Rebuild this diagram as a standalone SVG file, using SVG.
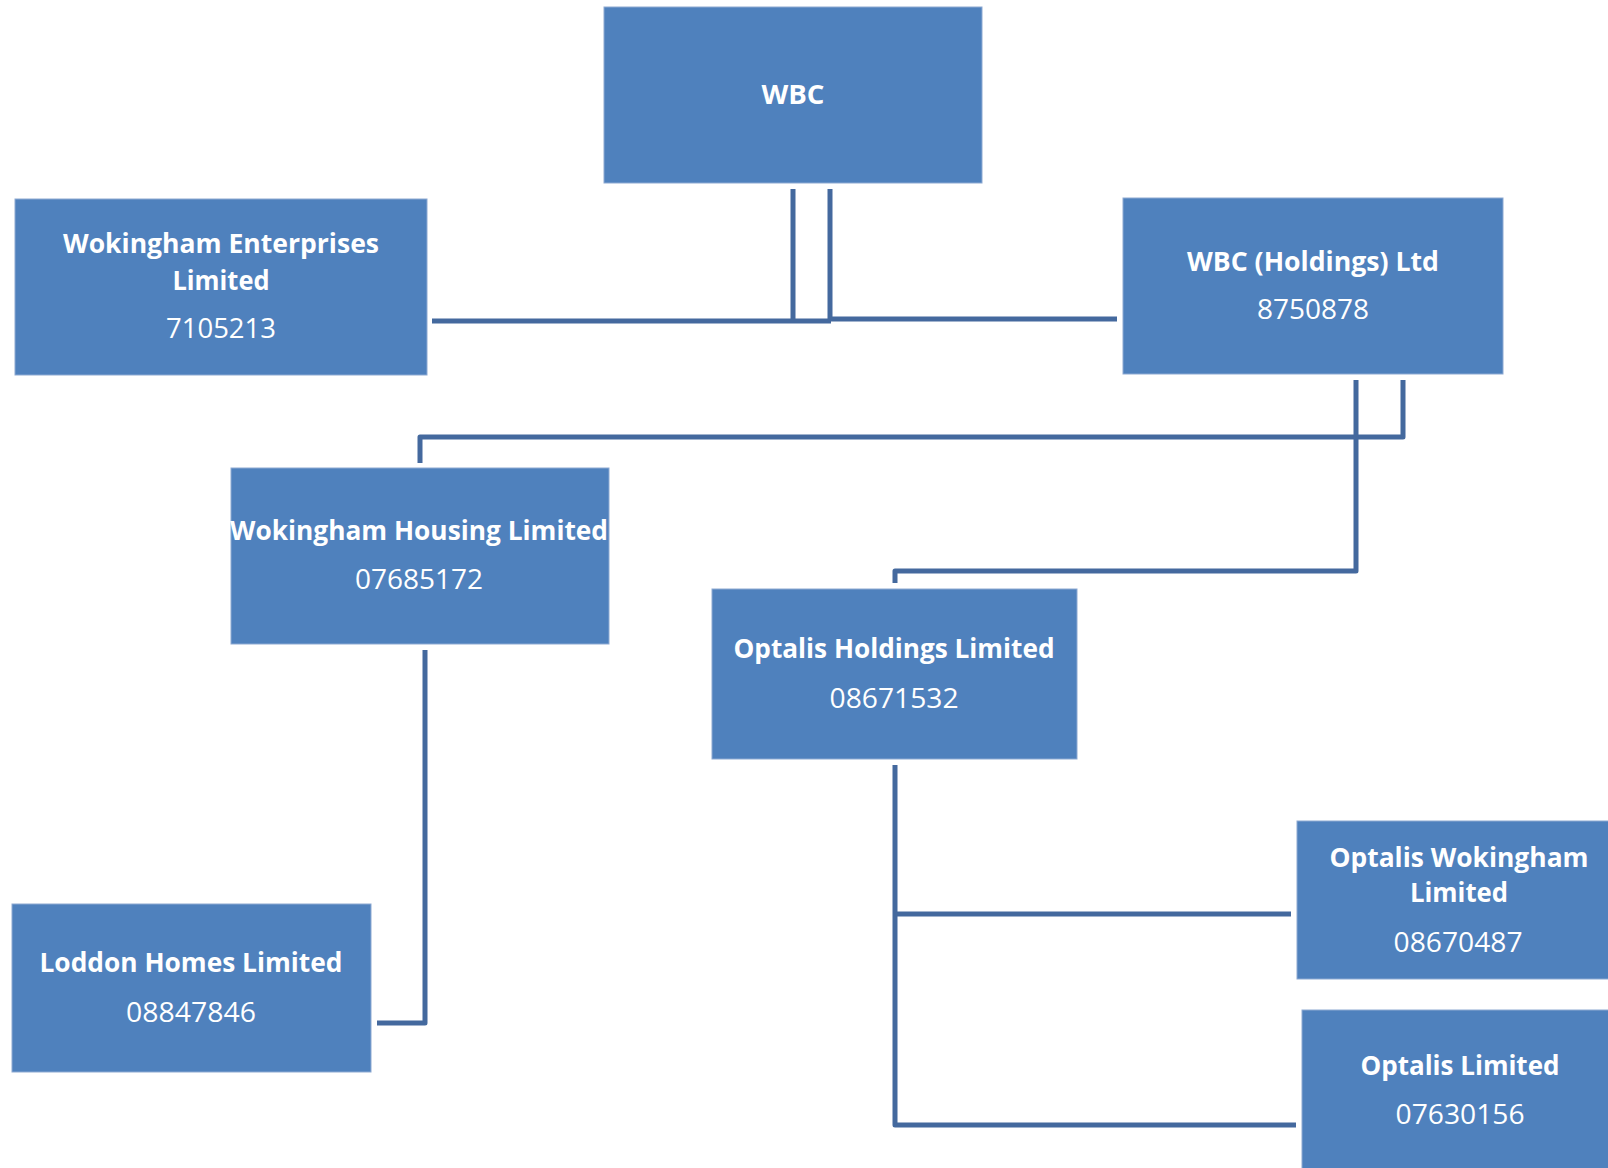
<svg xmlns="http://www.w3.org/2000/svg" width="1608" height="1168" viewBox="0 0 1608 1168">
<style>
.box{fill:#4F81BD;stroke:#8DA9D2;stroke-width:1}
.b{font-family:"Open Sans","Liberation Sans",sans-serif;font-weight:bold;font-size:26px;fill:#fff;text-anchor:middle}
.r{font-family:"Open Sans","Liberation Sans",sans-serif;font-size:28px;fill:#fff;text-anchor:middle}
.c{fill:none;stroke:#44699E;stroke-width:5;stroke-linejoin:round}
</style>
<rect width="1608" height="1168" fill="#fff"/>
<g id="connectors">
<path class="c" d="M793 189 V321 M432 321 H831"/>
<path class="c" d="M830 189 V319 H1117"/>
<path class="c" d="M1403 380 V437 H420 V463"/>
<path class="c" d="M1356 380 V571 H895 V583"/>
<path class="c" d="M425 650 V1023 H377"/>
<path class="c" d="M895 765 V1125 H1296 M895 914 H1291"/>
</g>
<g id="wbc">
<rect class="box" x="604" y="7" width="378" height="176"/>
<text class="b" x="793" y="104" font-size="29" textLength="63" lengthAdjust="spacingAndGlyphs">WBC</text>
</g>
<g id="wokingham-enterprises">
<rect class="box" x="15" y="199" width="412" height="176"/>
<text class="b" x="221" y="253" textLength="316" lengthAdjust="spacingAndGlyphs">Wokingham Enterprises</text>
<text class="b" x="221" y="290" textLength="97" lengthAdjust="spacingAndGlyphs">Limited</text>
<text class="r" x="221" y="338" textLength="110" lengthAdjust="spacingAndGlyphs">7105213</text>
</g>
<g id="wbc-holdings">
<rect class="box" x="1123" y="198" width="380" height="176"/>
<text class="b" x="1313" y="271" textLength="252" lengthAdjust="spacingAndGlyphs">WBC (Holdings) Ltd</text>
<text class="r" x="1313" y="319" textLength="112" lengthAdjust="spacingAndGlyphs">8750878</text>
</g>
<g id="wokingham-housing">
<rect class="box" x="231" y="468" width="378" height="176"/>
<text class="b" x="419" y="540" textLength="378" lengthAdjust="spacingAndGlyphs">Wokingham Housing Limited</text>
<text class="r" x="419" y="589" textLength="128" lengthAdjust="spacingAndGlyphs">07685172</text>
</g>
<g id="optalis-holdings">
<rect class="box" x="712" y="589" width="365" height="170"/>
<text class="b" x="894" y="658" textLength="321" lengthAdjust="spacingAndGlyphs">Optalis Holdings Limited</text>
<text class="r" x="894" y="708" textLength="129" lengthAdjust="spacingAndGlyphs">08671532</text>
</g>
<g id="loddon-homes">
<rect class="box" x="12" y="904" width="359" height="168"/>
<text class="b" x="191" y="972" textLength="303" lengthAdjust="spacingAndGlyphs">Loddon Homes Limited</text>
<text class="r" x="191" y="1022" textLength="130" lengthAdjust="spacingAndGlyphs">08847846</text>
</g>
<g id="optalis-wokingham">
<rect class="box" x="1297" y="821" width="320" height="158"/>
<text class="b" x="1459" y="867" textLength="259" lengthAdjust="spacingAndGlyphs">Optalis Wokingham</text>
<text class="b" x="1459" y="902" textLength="98" lengthAdjust="spacingAndGlyphs">Limited</text>
<text class="r" x="1458" y="952" textLength="129" lengthAdjust="spacingAndGlyphs">08670487</text>
</g>
<g id="optalis-limited">
<rect class="box" x="1302" y="1010" width="320" height="170"/>
<text class="b" x="1460" y="1075" textLength="199" lengthAdjust="spacingAndGlyphs">Optalis Limited</text>
<text class="r" x="1460" y="1124" textLength="129" lengthAdjust="spacingAndGlyphs">07630156</text>
</g>
</svg>
